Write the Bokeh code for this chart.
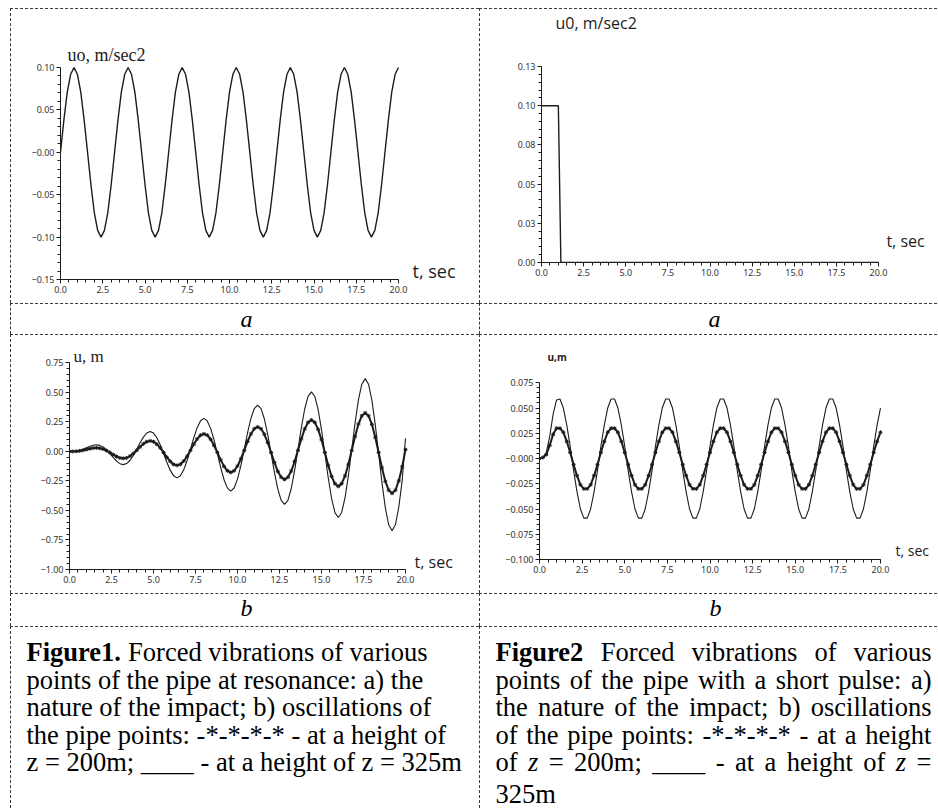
from bokeh.plotting import figure
from bokeh.models import Range1d, FixedTicker, Label, ColumnDataSource
from bokeh.layouts import column, row
from bokeh.embed import file_html
from bokeh.resources import INLINE
from bokeh.core.properties import value

# ---------------- data ----------------
T = [0.0, 0.2, 0.4, 0.6, 0.8, 1.0, 1.2, 1.4, 1.6, 1.8,
     2.0, 2.2, 2.4, 2.6, 2.8, 3.0, 3.2, 3.4, 3.6, 3.8,
     4.0, 4.2, 4.4, 4.6, 4.8, 5.0, 5.2, 5.4, 5.6, 5.8,
     6.0, 6.2, 6.4, 6.6, 6.8, 7.0, 7.2, 7.4, 7.6, 7.8,
     8.0, 8.2, 8.4, 8.6, 8.8, 9.0, 9.2, 9.4, 9.6, 9.8,
     10.0, 10.2, 10.4, 10.6, 10.8, 11.0, 11.2, 11.4, 11.6, 11.8,
     12.0, 12.2, 12.4, 12.6, 12.8, 13.0, 13.2, 13.4, 13.6, 13.8,
     14.0, 14.2, 14.4, 14.6, 14.8, 15.0, 15.2, 15.4, 15.6, 15.8,
     16.0, 16.2, 16.4, 16.6, 16.8, 17.0, 17.2, 17.4, 17.6, 17.8,
     18.0, 18.2, 18.4, 18.6, 18.8, 19.0, 19.2, 19.4, 19.6, 19.8,
     20.0]

# Figure 1a: harmonic impact u0 (m/sec2)
U0_RESONANCE = [0.0, 0.038, 0.071, 0.092, 0.1, 0.092, 0.071, 0.038, 0.0, -0.038,
                -0.071, -0.092, -0.1, -0.092, -0.071, -0.038, 0.0, 0.038, 0.071, 0.092,
                0.1, 0.092, 0.071, 0.038, 0.0, -0.038, -0.071, -0.092, -0.1, -0.092,
                -0.071, -0.038, 0.0, 0.038, 0.071, 0.092, 0.1, 0.092, 0.071, 0.038,
                0.0, -0.038, -0.071, -0.092, -0.1, -0.092, -0.071, -0.038, 0.0, 0.038,
                0.071, 0.092, 0.1, 0.092, 0.071, 0.038, 0.0, -0.038, -0.071, -0.092,
                -0.1, -0.092, -0.071, -0.038, 0.0, 0.038, 0.071, 0.092, 0.1, 0.092,
                0.071, 0.038, 0.0, -0.038, -0.071, -0.092, -0.1, -0.092, -0.071, -0.038,
                0.0, 0.038, 0.071, 0.092, 0.1, 0.092, 0.071, 0.038, 0.0, -0.038,
                -0.071, -0.092, -0.1, -0.092, -0.071, -0.038, 0.0, 0.038, 0.071, 0.092,
                0.1]

# Figure 2a: short pulse u0 (m/sec2)
T_PULSE = [0.0, 1.0, 1.15, 20.0]
U0_PULSE = [0.1, 0.1, 0.0, 0.0]

# Figure 1b: resonance, u (m)
U_RES_325 = [0.0, 0.0, 0.003, 0.008, 0.018, 0.030, 0.042, 0.052, 0.056, 0.051,
             0.037, 0.013, -0.018, -0.051, -0.082, -0.104, -0.112, -0.103, -0.077, -0.034,
             0.018, 0.073, 0.121, 0.156, 0.168, 0.155, 0.116, 0.056, -0.018, -0.094,
             -0.161, -0.207, -0.224, -0.207, -0.156, -0.077, 0.018, 0.116, 0.201, 0.259,
             0.280, 0.258, 0.195, 0.099, -0.018, -0.137, -0.240, -0.311, -0.336, -0.310,
             -0.235, -0.120, 0.018, 0.158, 0.280, 0.363, 0.392, 0.362, 0.274, 0.142,
             -0.018, -0.180, -0.319, -0.414, -0.448, -0.414, -0.314, -0.163, 0.018, 0.201,
             0.359, 0.466, 0.504, 0.465, 0.354, 0.184, -0.018, -0.223, -0.399, -0.518,
             -0.560, -0.517, -0.393, -0.206, 0.018, 0.244, 0.438, 0.569, 0.616, 0.569,
             0.433, 0.227, -0.018, -0.266, -0.478, -0.621, -0.672, -0.621, -0.472, -0.249,
             0.110]
U_RES_200 = [0.0, 0.0, 0.001, 0.004, 0.009, 0.016, 0.022, 0.028, 0.030, 0.027,
             0.020, 0.007, -0.009, -0.027, -0.043, -0.055, -0.059, -0.055, -0.040, -0.018,
             0.009, 0.038, 0.064, 0.082, 0.089, 0.082, 0.061, 0.030, -0.009, -0.050,
             -0.085, -0.110, -0.118, -0.109, -0.082, -0.041, 0.009, 0.061, 0.106, 0.137,
             0.148, 0.137, 0.103, 0.052, -0.009, -0.072, -0.127, -0.164, -0.178, -0.164,
             -0.124, -0.064, 0.009, 0.084, 0.148, 0.192, 0.207, 0.191, 0.145, 0.075,
             -0.009, -0.095, -0.169, -0.219, -0.237, -0.219, -0.166, -0.086, 0.009, 0.106,
             0.190, 0.246, 0.266, 0.246, 0.187, 0.098, -0.009, -0.118, -0.211, -0.274,
             -0.296, -0.273, -0.208, -0.109, 0.009, 0.129, 0.232, 0.301, 0.326, 0.301,
             0.229, 0.120, -0.009, -0.140, -0.253, -0.328, -0.355, -0.328, -0.250, -0.131,
             0.015]

# Figure 2b: short pulse, u (m)
U_PUL_325 = [0.0, 0.001, 0.006, 0.022, 0.044, 0.058, 0.059, 0.050, 0.033, 0.012,
             -0.012, -0.033, -0.050, -0.059, -0.059, -0.050, -0.033, -0.012, 0.012, 0.033,
             0.050, 0.059, 0.059, 0.050, 0.033, 0.012, -0.012, -0.033, -0.050, -0.059,
             -0.059, -0.050, -0.033, -0.012, 0.012, 0.033, 0.050, 0.059, 0.059, 0.050,
             0.033, 0.012, -0.012, -0.033, -0.050, -0.059, -0.059, -0.050, -0.033, -0.012,
             0.012, 0.033, 0.050, 0.059, 0.059, 0.050, 0.033, 0.012, -0.012, -0.033,
             -0.050, -0.059, -0.059, -0.050, -0.033, -0.012, 0.012, 0.033, 0.050, 0.059,
             0.059, 0.050, 0.033, 0.012, -0.012, -0.033, -0.050, -0.059, -0.059, -0.050,
             -0.033, -0.012, 0.012, 0.033, 0.050, 0.059, 0.059, 0.050, 0.033, 0.012,
             -0.012, -0.033, -0.050, -0.059, -0.059, -0.050, -0.033, -0.012, 0.012, 0.033,
             0.050]
U_PUL_200 = [0.0, 0.001, 0.004, 0.013, 0.024, 0.030, 0.030, 0.026, 0.017, 0.006,
             -0.006, -0.017, -0.026, -0.030, -0.030, -0.026, -0.017, -0.006, 0.006, 0.017,
             0.026, 0.030, 0.030, 0.026, 0.017, 0.006, -0.006, -0.017, -0.026, -0.030,
             -0.030, -0.026, -0.017, -0.006, 0.006, 0.017, 0.026, 0.030, 0.030, 0.026,
             0.017, 0.006, -0.006, -0.017, -0.026, -0.030, -0.030, -0.026, -0.017, -0.006,
             0.006, 0.017, 0.026, 0.030, 0.030, 0.026, 0.017, 0.006, -0.006, -0.017,
             -0.026, -0.030, -0.030, -0.026, -0.017, -0.006, 0.006, 0.017, 0.026, 0.030,
             0.030, 0.026, 0.017, 0.006, -0.006, -0.017, -0.026, -0.030, -0.030, -0.026,
             -0.017, -0.006, 0.006, 0.017, 0.026, 0.030, 0.030, 0.026, 0.017, 0.006,
             -0.006, -0.017, -0.026, -0.030, -0.030, -0.026, -0.017, -0.006, 0.006, 0.017,
             0.026]

# ticks and tick labels
X_TICKS = [0.0, 2.5, 5.0, 7.5, 10.0, 12.5, 15.0, 17.5, 20.0]
X_LABELS = ["0.0", "2.5", "5.0", "7.5", "10.0", "12.5", "15.0", "17.5", "20.0"]
Y_TICKS_1A = [-0.15, -0.1, -0.05, 0.0, 0.05, 0.1]
Y_LABELS_1A = ["\u22120.15", "\u22120.10", "\u22120.05", "\u22120.00", "0.05", "0.10"]
Y_TICKS_2A = [0.0, 0.025, 0.05, 0.075, 0.1, 0.125]
Y_LABELS_2A = ["0.00", "0.03", "0.05", "0.08", "0.10", "0.13"]
Y_TICKS_1B = [-1.0, -0.75, -0.5, -0.25, 0.0, 0.25, 0.5, 0.75]
Y_LABELS_1B = ["\u22121.00", "\u22120.75", "\u22120.50", "\u22120.25", "0.00", "0.25", "0.50", "0.75"]
Y_TICKS_2B = [-0.1, -0.075, -0.05, -0.025, 0.0, 0.025, 0.05, 0.075]
Y_LABELS_2B = ["\u22120.100", "\u22120.075", "\u22120.050", "\u22120.025", "\u22120.000", "0.025", "0.050", "0.075"]

# texts
CAPTION_1 = ["Figure1. Forced vibrations of various",
             "points of the pipe at resonance: a) the",
             "nature of the impact; b) oscillations of",
             "the pipe points: -*-*-*-* - at a height of",
             "z = 200m; ____ - at a height of z = 325m"]
CAPTION_2 = ["Figure2 Forced vibrations of various",
             "points of the pipe with a short pulse: a)",
             "the nature of the impact; b) oscillations",
             "of the pipe points: -*-*-*-* - at a height",
             "of z = 200m; ____ - at a height of z =",
             "325m"]

# ---------------- styling / layout ----------------
INK = "#1c1c1c"
BORDER = "#3a3a3a"
SERIF = "Liberation Serif"
SANS = "Open Sans"
FS = 26.5          # caption font size, px
BASE_SHIFT = 0.43  # observed downward offset of the alphabetic baseline, in em

W_LEFT, W_RIGHT = 469, 458
H_ROWS = [295, 31, 259, 33, 182]


def cell_style():
    return {"border-top": f"1px dashed {BORDER}",
            "border-left": f"1px dashed {BORDER}",
            "box-sizing": "border-box"}


X_MINOR = [0.5 * i for i in range(41)]


def make_plot(w, h, borders, px_x, px_y, y0, yb, yt, yl, ym):
    """borders = (left, right, top, bottom) in px; px_x/px_y = pixels per data unit."""
    bl, br, bt, bb = borders
    x_end = (w - bl - br) / px_x
    y_end = y0 + (h - bt - bb) / px_y
    p = figure(width=w, height=h, x_range=Range1d(0, x_end), y_range=Range1d(y0, y_end),
               output_backend="svg", toolbar_location=None, frame_align=False,
               min_border_left=bl, min_border_right=br,
               min_border_top=bt, min_border_bottom=bb,
               outline_line_color=None, background_fill_color="white",
               border_fill_color="white", styles=cell_style())
    p.xgrid.visible = False
    p.ygrid.visible = False
    xa, ya = p.xaxis[0], p.yaxis[0]
    xa.bounds = (0, 20)
    ya.bounds = (y0, yb)
    xa.ticker = FixedTicker(ticks=X_TICKS, minor_ticks=X_MINOR)
    xa.major_label_overrides = dict(zip(X_TICKS, X_LABELS))
    ya.ticker = FixedTicker(ticks=yt, minor_ticks=ym)
    ya.major_label_overrides = dict(zip(yt, yl))
    for ax in (xa, ya):
        ax.axis_line_color = INK
        ax.major_tick_line_color = INK
        ax.minor_tick_line_color = INK
        ax.major_tick_in = 0
        ax.major_tick_out = 4
        ax.minor_tick_in = 0
        ax.minor_tick_out = 3
        ax.major_label_text_font = "Noto Sans"
        ax.major_label_text_font_size = "9px"
        ax.major_label_text_color = "#333333"
        ax.major_label_standoff = 2
    p._px_y = px_y
    return p


def add_label(p, x, y, text, font, size_px, style="normal"):
    y_adj = y + BASE_SHIFT * size_px / p._px_y
    p.add_layout(Label(x=x, y=y_adj, text=text, text_font=font,
                       text_font_size=f"{size_px}px",
                       text_font_style=style, text_color=INK,
                       text_baseline="alphabetic", text_align="left"))


def text_cell(w, h):
    p = figure(width=w, height=h, x_range=Range1d(0, w), y_range=Range1d(h, 0),
               x_axis_type=None, y_axis_type=None, output_backend="svg",
               toolbar_location=None, min_border=0, outline_line_color=None,
               frame_align=False, background_fill_color="white",
               border_fill_color="white", styles=cell_style())
    p.xgrid.visible = False
    p.ygrid.visible = False
    return p


# Times / Liberation Serif advance widths (per 1000 em)
REG = dict(zip("abcdefghijklmnopqrstuvwxyz",
               [444, 500, 444, 500, 444, 333, 500, 500, 278, 278, 500, 278, 778,
                500, 500, 500, 500, 333, 389, 278, 500, 500, 722, 500, 500, 444]))
REG.update({" ": 250, "F": 556, ".": 250, ",": 250, ":": 278, ";": 278, ")": 333,
            "(": 333, "-": 333, "*": 500, "=": 564, "_": 500})
for d in "0123456789":
    REG[d] = 500
BOLD = {"F": 611, "i": 278, "g": 500, "u": 556, "r": 444, "e": 444, "1": 500,
        "2": 500, ".": 250}
ITAL = {"z": 389}


def word_width(word, style):
    table = {"bold": BOLD, "italic": ITAL}.get(style, REG)
    return sum(table.get(c, REG.get(c, 500)) for c in word) * FS / 1000.0


def draw_caption(p, lines, x0, baselines, justify_width, italic_words):
    groups = {"normal": ([], [], []), "bold": ([], [], []), "italic": ([], [], [])}
    for i, (line, yb) in enumerate(zip(lines, baselines)):
        words = line.split(" ")
        styles = []
        for wd in words:
            if wd.startswith("Figure"):
                styles.append("bold")
            elif wd in italic_words:
                styles.append("italic")
            else:
                styles.append("normal")
        widths = [word_width(wd, s) for wd, s in zip(words, styles)]
        gap = 250 * FS / 1000.0
        if justify_width and i < len(lines) - 1 and len(words) > 1:
            gap = (justify_width - sum(widths)) / (len(words) - 1)
        x = x0
        for wd, s, wdt in zip(words, styles, widths):
            g = groups[s]
            g[0].append(x)
            g[1].append(yb - BASE_SHIFT * FS)
            g[2].append(wd)
            x += wdt + gap
    for s, (xs, ys, ts) in groups.items():
        if not xs:
            continue
        src = ColumnDataSource(dict(x=xs, y=ys, text=ts))
        p.text(x="x", y="y", text="text", source=src, text_font=value(SERIF),
               text_font_size=value(f"{FS}px"), text_font_style=s,
               text_color="black", text_align="left", text_baseline="alphabetic")


# ---------------- Figure 1a ----------------
p1a = make_plot(W_LEFT, H_ROWS[0], (49, 4, 30, 25), 16.9, 848.0, -0.15, 0.10,
                Y_TICKS_1A, Y_LABELS_1A, [round(-0.15 + 0.01 * i, 3) for i in range(26)])
p1a.line(T, U0_RESONANCE, line_color=INK, line_width=1.4)
add_label(p1a, 0.41, 0.106, "uo, m/sec2", SERIF, 18)
add_label(p1a, 20.83, -0.1488, "t, sec", SANS, 18)

# ---------------- Figure 2a ----------------
p2a = make_plot(W_RIGHT, H_ROWS[0], (61, 4, 4, 42), 16.85, 1568.0, 0.0, 0.125,
                Y_TICKS_2A, Y_LABELS_2A, [round(0.005 * i, 3) for i in range(26)])
p2a.line(T_PULSE, U0_PULSE, line_color=INK, line_width=1.4)
add_label(p2a, 0.83, 0.1486, "u0, m/sec2", SANS, 16)
add_label(p2a, 20.47, 0.0096, "t, sec", SANS, 16)

# ---------------- Figure 1b ----------------
p1b = make_plot(W_LEFT, H_ROWS[2], (58, 4, 9, 25), 16.8, 118.1, -1.0, 0.75,
                Y_TICKS_1B, Y_LABELS_1B, [round(-1.0 + 0.05 * i, 3) for i in range(36)])
p1b.line(T, U_RES_325, line_color=INK, line_width=1.1)
p1b.line(T, U_RES_200, line_color=INK, line_width=2.0)
p1b.scatter(T, U_RES_200, marker="asterisk", size=4, line_color=INK, line_width=1)
add_label(p1b, 0.24, 0.744, "u, m", SERIF, 17)
add_label(p1b, 20.54, -0.9915, "t, sec", SANS, 16)

# ---------------- Figure 2b ----------------
p2b = make_plot(W_RIGHT, H_ROWS[2], (59, 4, 10, 35), 17.05, 1009.7, -0.1, 0.075,
                Y_TICKS_2B, Y_LABELS_2B, [round(-0.1 + 0.005 * i, 3) for i in range(36)])
p2b.line(T, U_PUL_325, line_color=INK, line_width=1.1)
p2b.line(T, U_PUL_200, line_color=INK, line_width=2.0)
p2b.scatter(T, U_PUL_200, marker="asterisk", size=4, line_color=INK, line_width=1)
add_label(p2b, 0.47, 0.0964, "u,m", SANS, 10, "bold")
add_label(p2b, 20.88, -0.097, "t, sec", SANS, 14)


# ---------------- letter rows ----------------
def letter_cell(w, h, letter, x, yb):
    p = text_cell(w, h)
    p.text(x=[x], y=[yb - BASE_SHIFT * 24], text=[letter], text_font=value(SERIF),
           text_font_size=value("24px"), text_font_style="italic",
           text_color="black", text_align="center", text_baseline="alphabetic")
    return p


la1 = letter_cell(W_LEFT, H_ROWS[1], "a", 235, 25)
la2 = letter_cell(W_RIGHT, H_ROWS[1], "a", 234, 25)
lb1 = letter_cell(W_LEFT, H_ROWS[3], "b", 235, 24)
lb2 = letter_cell(W_RIGHT, H_ROWS[3], "b", 235, 24)

# ---------------- captions ----------------
c1 = text_cell(W_LEFT, H_ROWS[4])
draw_caption(c1, CAPTION_1, 15, [36, 63.5, 91, 118.5, 146], None, set())
c2 = text_cell(W_RIGHT, H_ROWS[4])
draw_caption(c2, CAPTION_2, 15, [36, 63.5, 91, 118.5, 146, 178], 436, {"z"})

layout = column(row(p1a, p2a), row(la1, la2), row(p1b, p2b), row(lb1, lb2), row(c1, c2),
                styles={"margin-left": "10px", "margin-top": "8px"})

open("out.html", "w").write(file_html(layout, INLINE, "Forced vibrations"))
